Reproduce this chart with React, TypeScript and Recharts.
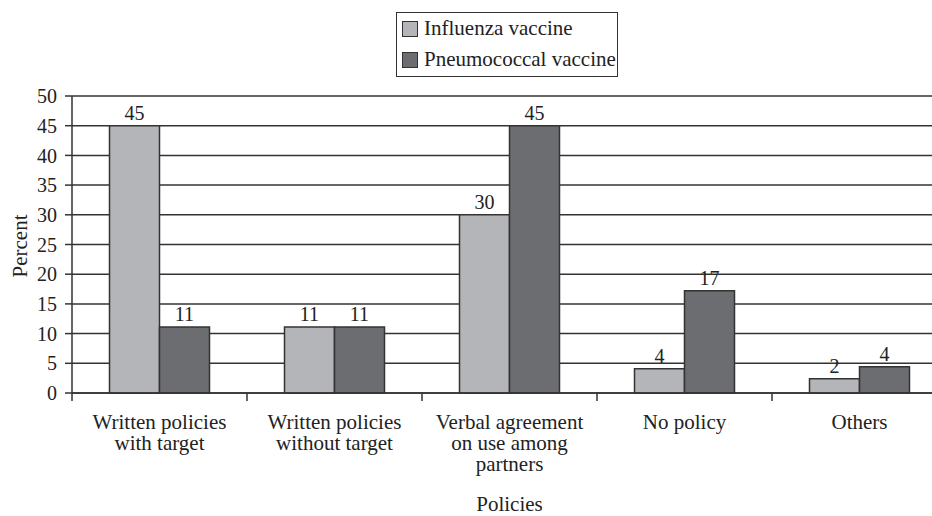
import { Bar, BarChart, CartesianGrid, LabelList, Legend, XAxis, YAxis } from "recharts";

const categories = [
  "Written policies with target",
  "Written policies without target",
  "Verbal agreement on use among partners",
  "No policy",
  "Others",
];
// how each category label wraps under the axis
const categoryLines = [
  ["Written policies", "with target"],
  ["Written policies", "without target"],
  ["Verbal agreement", "on use among", "partners"],
  ["No policy"],
  ["Others"],
];
const influenza = [45, 11.1, 30, 4.1, 2.4];
const pneumococcal = [11.1, 11.1, 45, 17.2, 4.4];
const yTicks = [0, 5, 10, 15, 20, 25, 30, 35, 40, 45, 50];

const SERIES = [
  { key: "influenza", name: "Influenza vaccine", color: "#b4b5b9" },
  { key: "pneumococcal", name: "Pneumococcal vaccine", color: "#6c6d71" },
];

const FONT = '"Liberation Serif", "Times New Roman", serif';
const INK = "#222";
const LINE = "#333";

const CHART_W = 960;
const CHART_H = 516;
const MARGIN = { top: 96, right: 13, left: 0, bottom: 0 };
const Y_AXIS_W = 72;
const X_AXIS_H = 123;
const BAND = (CHART_W - MARGIN.right - MARGIN.left - Y_AXIS_W) / categories.length;

const data = categories.map((c, i) => ({
  category: c,
  influenza: influenza[i],
  pneumococcal: pneumococcal[i],
}));

function CategoryTick(props: any) {
  const { x, y, payload } = props;
  const lines = categoryLines[payload.index] ?? [String(payload.value)];
  const left = x - BAND / 2;
  return (
    <g>
      <line x1={left} x2={left} y1={y} y2={y + 8} stroke={LINE} strokeWidth={1.5} />
      <text x={x} y={y} textAnchor="middle" fontFamily={FONT} fontSize={21} fill={INK}>
        {lines.map((l: string, i: number) => (
          <tspan key={i} x={x} dy={i === 0 ? 36 : 21}>
            {l}
          </tspan>
        ))}
      </text>
    </g>
  );
}

function LegendBox() {
  return (
    <div
      style={{
        border: `1.5px solid ${LINE}`,
        background: "#fff",
        width: 222,
        height: 65,
        boxSizing: "border-box",
        padding: "0 0 0 5px",
        fontFamily: FONT,
        fontSize: 21,
        color: INK,
      }}
    >
      {SERIES.map((s) => (
        <div key={s.key} style={{ display: "flex", alignItems: "center", height: 31 }}>
          <span
            style={{
              width: 16,
              height: 16,
              boxSizing: "border-box",
              background: s.color,
              border: `1.5px solid ${LINE}`,
              display: "inline-block",
              marginRight: 6,
            }}
          />
          {s.name}
        </div>
      ))}
    </div>
  );
}

function PercentLabel() {
  return (
    <text
      x={20}
      y={246}
      transform="rotate(-90, 20, 246)"
      textAnchor="middle"
      dominantBaseline="central"
      fontFamily={FONT}
      fontSize={21}
      fill={INK}
    >
      Percent
    </text>
  );
}

export default function App() {
  return (
    <div
      style={{
        position: "absolute",
        left: 0,
        top: 0,
        width: 932,
        height: 516,
        overflow: "hidden",
        background: "#fff",
      }}
    >
      <BarChart
        width={CHART_W}
        height={CHART_H}
        data={data}
        margin={MARGIN}
        barGap={0}
        barCategoryGap={37.5}
      >
        <CartesianGrid vertical={false} stroke={LINE} strokeWidth={1.5} />
        <XAxis
          dataKey="category"
          height={X_AXIS_H}
          interval={0}
          tick={<CategoryTick />}
          tickLine={false}
          tickSize={0}
          tickMargin={0}
          axisLine={{ stroke: LINE, strokeWidth: 1.5 }}
          label={{
            value: "Policies",
            position: "insideBottom",
            offset: 5,
            fontFamily: FONT,
            fontSize: 21,
            fill: INK,
          }}
        />
        <YAxis
          width={Y_AXIS_W}
          domain={[0, 50]}
          ticks={yTicks}
          interval={0}
          tickSize={7}
          tickMargin={8}
          tick={{ fontFamily: FONT, fontSize: 20, fill: INK }}
          tickLine={{ stroke: LINE, strokeWidth: 1.5 }}
          axisLine={{ stroke: LINE, strokeWidth: 1.5 }}
          label={<PercentLabel />}
        />
        <Legend
          layout="vertical"
          verticalAlign="middle"
          align="center"
          content={<LegendBox />}
          wrapperStyle={{ position: "absolute", left: 396, top: 12, width: 222 }}
        />
        {SERIES.map((s) => (
          <Bar
            key={s.key}
            dataKey={s.key}
            name={s.name}
            fill={s.color}
            stroke={LINE}
            strokeWidth={1.5}
            isAnimationActive={false}
          >
            <LabelList
              dataKey={s.key}
              position="top"
              offset={6}
              formatter={(v: any) => Math.round(Number(v))}
              style={{ fontFamily: FONT, fontSize: 20, fill: INK }}
            />
          </Bar>
        ))}
      </BarChart>
    </div>
  );
}
